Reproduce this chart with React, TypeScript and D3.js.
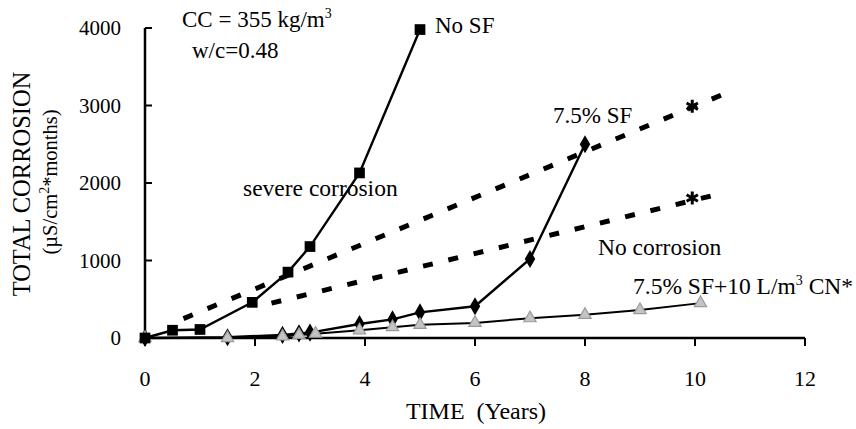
import React from "react";
import * as d3 from "d3";

// ---- data ----
const xTicks = [0, 2, 4, 6, 8, 10, 12];
const yTicks = [0, 1000, 2000, 3000, 4000];

const noSfX = [0, 0.5, 1, 1.95, 2.6, 3, 3.9, 5];
const noSfY = [0, 100, 110, 460, 850, 1180, 2130, 3980];

const sfX = [0, 1.5, 2.5, 2.8, 3, 3.9, 4.5, 5, 6, 7, 8];
const sfY = [0, 10, 40, 60, 70, 180, 240, 330, 410, 1020, 2500];

const cnX = [0, 1.5, 2.5, 2.8, 3.1, 3.9, 4.5, 5, 6, 7, 8, 9, 10.1];
const cnY = [0, 0, 20, 40, 55, 100, 140, 170, 195, 255, 300, 360, 450];

// dashed boundary lines (endpoints) and asterisk markers
const upperX = [0.7, 10.5];
const upperY = [250, 3140];
const lowerX = [2.3, 10.45];
const lowerY = [450, 1860];
const starX = [9.95, 9.95];
const starY = [2990, 1806];

const W = 856;
const H = 429;
const FONT = "'Liberation Serif', 'Times New Roman', serif";

const zip = (xs: number[], ys: number[]) => xs.map((x, i) => [x, ys[i]] as [number, number]);

export default function App() {
  const x = d3.scaleLinear().domain([0, 12]).range([145, 805]);
  const y = d3.scaleLinear().domain([0, 4000]).range([338, 28]);
  const line = d3
    .line<[number, number]>()
    .x((d) => x(d[0]))
    .y((d) => y(d[1]));

  const sq = d3.symbol(d3.symbolSquare, 115)();
  const dia = d3.symbol(d3.symbolDiamond, 95)();
  const tri = d3.symbol(d3.symbolTriangle, 65)();
  const ast = d3.symbol(d3.symbolAsterisk, 120)();

  return (
    <svg
      width={W}
      height={H}
      style={{ position: "absolute", left: 0, top: 0, background: "#fff" }}
      fontFamily={FONT}
    >
      <rect width={W} height={H} fill="#fff" />
      {/* axes */}
      <line x1={x(0)} x2={x(0)} y1={y(4000)} y2={y(0)} stroke="#000" strokeWidth={2.5} />
      <line x1={x(0)} x2={x(12)} y1={y(0)} y2={y(0)} stroke="#000" strokeWidth={2.5} />
      {yTicks.map((t) => (
        <g key={"yt" + t}>
          <line x1={x(0)} x2={x(0) + 7} y1={y(t)} y2={y(t)} stroke="#000" strokeWidth={2} />
          <text x={121} y={y(t)} dy="0.35em" textAnchor="end" fontSize={21}>
            {t}
          </text>
        </g>
      ))}
      {xTicks.map((t) => (
        <g key={"xt" + t}>
          <line x1={x(t)} x2={x(t)} y1={y(0)} y2={y(0) + 8} stroke="#000" strokeWidth={2} />
          <text x={x(t)} y={386} textAnchor="middle" fontSize={22}>
            {t}
          </text>
        </g>
      ))}

      {/* axis titles */}
      <text x={476} y={419} textAnchor="middle" fontSize={24}>
        TIME{"\u00a0\u00a0"}(Years)
      </text>
      <text transform="translate(30,184) rotate(-90)" textAnchor="middle" fontSize={24.5}>
        TOTAL CORROSION
      </text>
      <text transform="translate(57,182) rotate(-90)" textAnchor="middle" fontSize={20.5}>
        (µS/cm<tspan dy={-8} fontSize={14}>2</tspan>
        <tspan dy={8}>*months)</tspan>
      </text>

      {/* dashed boundary lines */}
      <path d={line(zip(upperX, upperY)) || ""} fill="none" stroke="#000" strokeWidth={5} strokeDasharray="10,16" />
      <path d={line(zip(lowerX, lowerY)) || ""} fill="none" stroke="#000" strokeWidth={5} strokeDasharray="10,16" />
      {zip(starX, starY).map((p, i) => (
        <path key={"st" + i} d={ast || ""} transform={`translate(${x(p[0])},${y(p[1])})`} fill="#000" stroke="#000" strokeWidth={3} />
      ))}

      {/* CN series (grey triangles) */}
      <path d={line(zip(cnX, cnY)) || ""} fill="none" stroke="#000" strokeWidth={2} />
      {/* 7.5% SF series (diamonds) */}
      <path d={line(zip(sfX, sfY)) || ""} fill="none" stroke="#000" strokeWidth={2.4} />
      {zip(sfX, sfY).map((p, i) => (
        <path key={"sf" + i} d={dia || ""} transform={`translate(${x(p[0])},${y(p[1])})`} fill="#000" />
      ))}
      {zip(cnX, cnY).map((p, i) => (
        <path key={"cn" + i} d={tri || ""} transform={`translate(${x(p[0])},${y(p[1])})`} fill="#c4c4c4" stroke="#9a9a9a" strokeWidth={1.2} />
      ))}
      {/* No SF series (squares) */}
      <path d={line(zip(noSfX, noSfY)) || ""} fill="none" stroke="#000" strokeWidth={2.4} />
      {zip(noSfX, noSfY).map((p, i) => (
        <path key={"ns" + i} d={sq || ""} transform={`translate(${x(p[0])},${y(p[1])})`} fill="#000" />
      ))}

      {/* annotations */}
      <text x={182} y={27} fontSize={23}>
        CC = 355 kg/m<tspan dy={-9} fontSize={14}>3</tspan>
      </text>
      <text x={192} y={58} fontSize={23}>
        w/c=0.48
      </text>
      <text x={435} y={33} fontSize={23}>
        No SF
      </text>
      <text x={553} y={123} fontSize={23}>
        7.5% SF
      </text>
      <text x={243} y={196} fontSize={23.5}>
        severe corrosion
      </text>
      <text x={598} y={255} fontSize={23.5}>
        No corrosion
      </text>
      <text x={633} y={294} fontSize={23.5}>
        7.5% SF+10 L/m<tspan dy={-9} fontSize={14}>3</tspan>
        <tspan dy={9}> CN*</tspan>
      </text>
    </svg>
  );
}
